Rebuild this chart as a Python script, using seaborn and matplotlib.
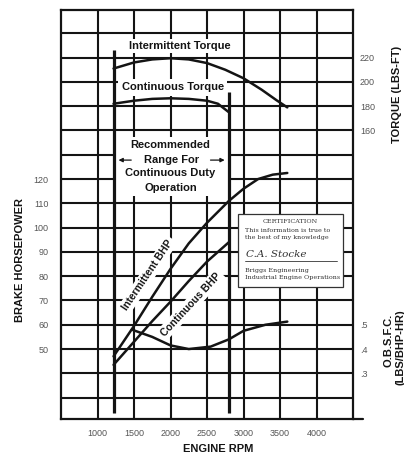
"""
Engine performance curve: torque, brake horsepower and O.B.S.F.C. vs engine RPM.
"""

import matplotlib

matplotlib.use("Agg")
import matplotlib.pyplot as plt
import pandas as pd
import seaborn as sns
from matplotlib.patches import Rectangle

# --- Data ---
RPM_TICKS = [1000, 1500, 2000, 2500, 3000, 3500, 4000]
BHP_GRID = list(range(30, 190, 10))
BHP_LABELED = [50, 60, 70, 80, 90, 100, 110, 120]
TORQUE_TICKS = [160, 180, 200, 220]
BSFC_TICKS = [0.3, 0.4, 0.5]
BSFC_TICK_LABELS = [".3", ".4", ".5"]

int_torque_rpm = [1220, 1500, 1750, 2000, 2250, 2500, 2750, 3000, 3250, 3450, 3600]
int_torque = [211, 216, 218.5, 219.5, 218.5, 215.5, 210, 203, 193.5, 185, 179]

cont_torque_rpm = [1220, 1500, 1750, 2000, 2250, 2500, 2650, 2800]
cont_torque = [182, 184.5, 186, 186.5, 186, 184.5, 182, 175]

int_bhp_rpm = [1220, 1500, 1750, 2000, 2250, 2500, 2800, 3000, 3200, 3400, 3600]
int_bhp = [47, 59.5, 71.5, 83, 93.5, 102, 111, 116, 120, 121.8, 122.5]

cont_bhp_rpm = [1220, 1500, 1750, 2000, 2250, 2500, 2650, 2800]
cont_bhp = [43.5, 53, 61.5, 69.5, 78, 86, 90, 94]

bsfc_rpm = [1470, 1750, 2000, 2250, 2550, 2800, 3000, 3300, 3600]
bsfc = [0.48, 0.45, 0.415, 0.40, 0.41, 0.44, 0.475, 0.50, 0.513]

RANGE_RPM = [1220, 2800]  # recommended continuous-duty range

# axis limits (BHP scale, the others are tied to its grid)
BHP_LIM = (21.2, 189.6)
TORQUE_LIM = tuple(220 + 2 * (v - 170) for v in BHP_LIM)
BSFC_LIM = tuple(0.5 + 0.01 * (v - 60) for v in BHP_LIM)

INK = "#141414"
TICK_GREY = "#555555"

sns.set_theme(style="white")
plt.rcParams["font.family"] = ["Liberation Sans", "DejaVu Sans"]

fig = plt.figure(figsize=(4.04, 4.54), dpi=100)
ax = fig.add_axes([61 / 404, 1 - 419 / 454, 292 / 404, 409 / 454])
ax.set_xlim(500, 4500)
ax.set_ylim(*BHP_LIM)
ax.set_axisbelow(True)

# grid
ax.set_xticks(RPM_TICKS)
ax.set_yticks(BHP_GRID)
ax.set_yticklabels([str(v) if v in BHP_LABELED else "" for v in BHP_GRID])
ax.grid(True, color=INK, linewidth=1.5)
ax.tick_params(axis="both", length=0, labelsize=6.5, colors=TICK_GREY)
ax.tick_params(axis="x", pad=7)
ax.tick_params(axis="y", pad=9)
for spine in ax.spines.values():
    spine.set_color(INK)
    spine.set_linewidth(1.6)
ax.plot([1, 1.035], [0, 0], transform=ax.transAxes, color=INK, lw=1.6, clip_on=False)

# white space around the "recommended range" caption
ax.add_patch(Rectangle((RANGE_RPM[0], 113), RANGE_RPM[1] - RANGE_RPM[0], 24.5,
                       facecolor="white", edgecolor="none", zorder=2.5))

# recommended range bars
ax.vlines(RANGE_RPM[0], 23.7, 173, color=INK, lw=2.3, zorder=4)
ax.vlines(RANGE_RPM[1], 23.7, 155.8, color=INK, lw=2.3, zorder=4)

# BHP curves
df_int_bhp = pd.DataFrame({"rpm": int_bhp_rpm, "bhp": int_bhp})
df_cont_bhp = pd.DataFrame({"rpm": cont_bhp_rpm, "bhp": cont_bhp})
sns.lineplot(data=df_int_bhp, x="rpm", y="bhp", ax=ax, color=INK, lw=1.8, zorder=5)
sns.lineplot(data=df_cont_bhp, x="rpm", y="bhp", ax=ax, color=INK, lw=1.8, zorder=5)
ax.set_xlabel(None)
ax.set_ylabel(None)

# torque axis
ax_t = ax.twinx()
ax_t.set_ylim(*TORQUE_LIM)
df_int_tq = pd.DataFrame({"rpm": int_torque_rpm, "torque": int_torque})
df_cont_tq = pd.DataFrame({"rpm": cont_torque_rpm, "torque": cont_torque})
sns.lineplot(data=df_int_tq, x="rpm", y="torque", ax=ax_t, color=INK, lw=1.8)
sns.lineplot(data=df_cont_tq, x="rpm", y="torque", ax=ax_t, color=INK, lw=1.8)
ax_t.set_yticks(TORQUE_TICKS)
ax_t.set_yticklabels([str(v) for v in TORQUE_TICKS])

# fuel consumption axis
ax_b = ax.twinx()
ax_b.set_ylim(*BSFC_LIM)
df_bsfc = pd.DataFrame({"rpm": bsfc_rpm, "bsfc": bsfc})
sns.lineplot(data=df_bsfc, x="rpm", y="bsfc", ax=ax_b, color=INK, lw=1.8)
ax_b.set_yticks(BSFC_TICKS)
ax_b.set_yticklabels(BSFC_TICK_LABELS)

for tw in (ax_t, ax_b):
    tw.set_ylabel(None)
    tw.grid(False)
    tw.tick_params(axis="y", length=0, pad=5, labelsize=6.5, colors=TICK_GREY)
    for spine in tw.spines.values():
        spine.set_visible(False)

# curve captions
bold = dict(fontsize=8, fontweight="bold", color=INK, ha="center", va="center")
wbox = dict(facecolor="white", edgecolor="none", pad=1.5)
ax.text(2123, 174.9, "Intermittent Torque", bbox=wbox, zorder=3, **bold)
ax.text(2034, 157.7, "Continuous Torque", bbox=dict(facecolor="white", edgecolor="none", pad=2.5),
        zorder=3, **bold)
ax.text(2000, 134, "Recommended", zorder=3, **bold)
ax.text(2020, 127.8, "Range For", zorder=3, **bold)
ax.text(2000, 122.4, "Continuous Duty", zorder=3, **bold)
ax.text(2000, 116.3, "Operation", zorder=3, **bold)
arrow = dict(arrowstyle="-|>", color=INK, lw=0.9, mutation_scale=6)
ax.annotate("", xy=(1250, 127.8), xytext=(1500, 127.8), arrowprops=arrow, zorder=4)
ax.annotate("", xy=(2780, 127.8), xytext=(2510, 127.8), arrowprops=arrow, zorder=4)
rot = dict(bold, fontsize=7.5)
ax.text(1690, 80.6, "Intermittent BHP", rotation=56, bbox=wbox, zorder=3, **rot)
ax.text(2280, 68.4, "Continuous BHP", rotation=47, bbox=wbox, zorder=3, **rot)

# certification box
ax.add_patch(Rectangle((0.606, 0.323), 0.36, 0.178, transform=ax.transAxes,
                       facecolor="white", edgecolor="#333333", lw=0.9, zorder=6))
cert = dict(transform=ax.transAxes, color="#333333", zorder=7, family="DejaVu Serif")
ax.text(0.786, 0.484, "CERTIFICATION", fontsize=4.6, ha="center", va="center", **cert)
ax.text(0.630, 0.460, "This information is true to", fontsize=4.6, va="center", **cert)
ax.text(0.630, 0.443, "the best of my knowledge", fontsize=4.6, va="center", **cert)
ax.text(0.635, 0.403, "C.A. Stocke", fontsize=7.5, style="italic", va="center", **cert)
ax.plot([0.630, 0.945], [0.386, 0.386], transform=ax.transAxes, color="#333333",
        lw=0.6, zorder=7)
ax.text(0.630, 0.364, "Briggs Engineering", fontsize=4.6, va="center", **cert)
ax.text(0.630, 0.347, "Industrial Engine Operations", fontsize=4.6, va="center", **cert)

# axis titles
title = dict(fontsize=8, fontweight="bold", color=INK, ha="center", va="center")
fig.text(20 / 404, 1 - 260 / 454, "BRAKE HORSEPOWER", rotation=90, **title)
fig.text(397 / 404, 1 - 94 / 454, "TORQUE (LBS-FT)", rotation=90, **title)
fig.text(389 / 404, 1 - 340 / 454, "O.B.S.F.C.", rotation=90, **title)
fig.text(400 / 404, 1 - 347 / 454, "(LBS/BHP-HR)", rotation=90, **title)
fig.text(218 / 404, 1 - 449 / 454, "ENGINE RPM", **title)

fig.savefig("out.png", dpi=100)
